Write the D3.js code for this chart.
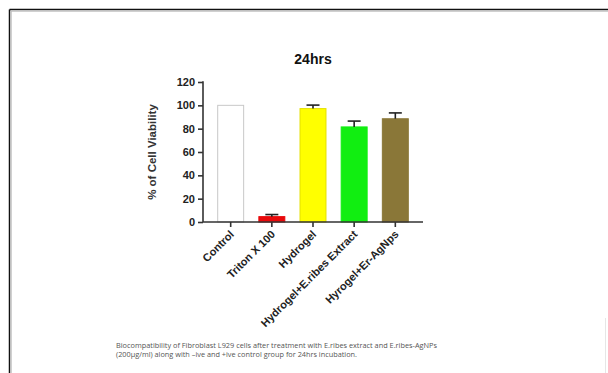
<!DOCTYPE html>
<html><head><meta charset="utf-8">
<script src="https://cdn.jsdelivr.net/npm/d3@7/dist/d3.min.js"></script>
<style>body{margin:0;background:#fff}svg{display:block}</style>
</head><body>
<svg id="c" width="608" height="373"></svg>
<script>
const categories = ["Control", "Triton X 100", "Hydrogel", "Hydrogel+E.ribes Extract", "Hyrogel+Er-AgNps"];
const means = [100, 4.6, 97.2, 81.5, 88.5];
const errors = [0, 1.8, 3, 5, 5];
const colors = ["#ffffff", "#e8090b", "#ffff00", "#11ee11", "#8a7738"];
const strokes = ["#c8c8c8", "#e8090b", "#e5e000", "#11ee11", "#8a7738"];
const yTicks = [0, 20, 40, 60, 80, 100, 120];
const title = "24hrs";
const yLabel = "% of Cell Viability";
const caption = ["Biocompatibility of Fibroblast L929 cells  after treatment with E.ribes extract and E.ribes-AgNPs",
                 "(200µg/ml) along with \u2013ive and +ive control group for 24hrs incubation."];

const svg = d3.select("#c");
// frame
svg.append("line").attr("x1",9.5).attr("x2",608).attr("y1",9.5).attr("y2",9.5).attr("stroke","#111").attr("stroke-width",1.5);
svg.append("line").attr("x1",9.5).attr("x2",9.5).attr("y1",9.5).attr("y2",373).attr("stroke","#111").attr("stroke-width",1.5);
svg.append("line").attr("x1",11).attr("x2",608).attr("y1",11.2).attr("y2",11.2).attr("stroke","#bbb").attr("stroke-width",1);
svg.append("line").attr("x1",11.2).attr("x2",11.2).attr("y1",11).attr("y2",373).attr("stroke","#bbb").attr("stroke-width",1);
svg.append("line").attr("x1",605.5).attr("x2",605.5).attr("y1",318).attr("y2",373).attr("stroke","#e6e6e6").attr("stroke-width",1);

const x = d3.scaleBand().domain(categories).range([203, 423]).paddingInner(0.345).paddingOuter(0.345);
const y = d3.scaleLinear().domain([0, 120]).range([222, 82]);

const font = "Liberation Sans, Arial, sans-serif";

// bars
svg.append("g").selectAll("rect").data(categories).join("rect")
  .attr("x", d => x(d) + 0.5)
  .attr("width", x.bandwidth() - 1)
  .attr("y", (d,i) => y(means[i]))
  .attr("height", (d,i) => y(0) - y(means[i]))
  .attr("fill", (d,i) => colors[i])
  .attr("stroke", (d,i) => strokes[i])
  .attr("stroke-width", 1);

// error bars (upper only)
const eg = svg.append("g").attr("stroke", "#222").attr("stroke-width", 1.6);
categories.forEach((c,i) => {
  if (!errors[i]) return;
  const cx = x(c) + x.bandwidth()/2;
  eg.append("line").attr("x1",cx).attr("x2",cx).attr("y1",y(means[i])).attr("y2",y(means[i]+errors[i]));
  eg.append("line").attr("x1",cx-6.5).attr("x2",cx+6.5).attr("y1",y(means[i]+errors[i])).attr("y2",y(means[i]+errors[i]));
});

// y axis
const ya = svg.append("g").attr("transform","translate(203,0)")
  .call(d3.axisLeft(y).tickValues(yTicks).tickSize(5).tickPadding(3));
ya.selectAll("path,line").attr("stroke","#333").attr("stroke-width",1.6);
ya.select("path").attr("d","M0,81.2V222");
ya.selectAll("text").attr("font-family",font).attr("font-weight","bold").attr("font-size",11).attr("fill","#222");

// x axis
const xa = svg.append("g").attr("transform","translate(0,222)")
  .call(d3.axisBottom(x).tickSize(5).tickSizeOuter(0).tickPadding(4));
xa.selectAll("path,line").attr("stroke","#333").attr("stroke-width",1.6);
xa.select("path").attr("d","M203,0H423");
xa.selectAll("text")
  .attr("font-family",font).attr("font-weight","bold").attr("font-size",11).attr("fill","#222")
  .attr("text-anchor","end").attr("dy",null).attr("y",0)
  .attr("transform","translate(4,13) rotate(-45)");

// title
svg.append("text").attr("x",313).attr("y",63.5).attr("text-anchor","middle")
  .attr("font-family",font).attr("font-weight","bold").attr("font-size",14).attr("fill","#111").text(title);

// y label
svg.append("text").attr("transform","translate(156,152) rotate(-90)").attr("text-anchor","middle")
  .attr("font-family",font).attr("font-weight","bold").attr("font-size",11.5).attr("fill","#333").text(yLabel);

// caption
svg.append("g").selectAll("text").data(caption).join("text")
  .attr("x",116).attr("y",(d,i) => 347.5 + i*9.5)
  .attr("font-family","Open Sans, sans-serif").attr("font-size",6.6).attr("fill","#555")
  .attr("textLength",(d,i) => i === 0 ? 321 : 241).attr("lengthAdjust","spacingAndGlyphs")
  .text(d => d);
</script>
</body></html>
